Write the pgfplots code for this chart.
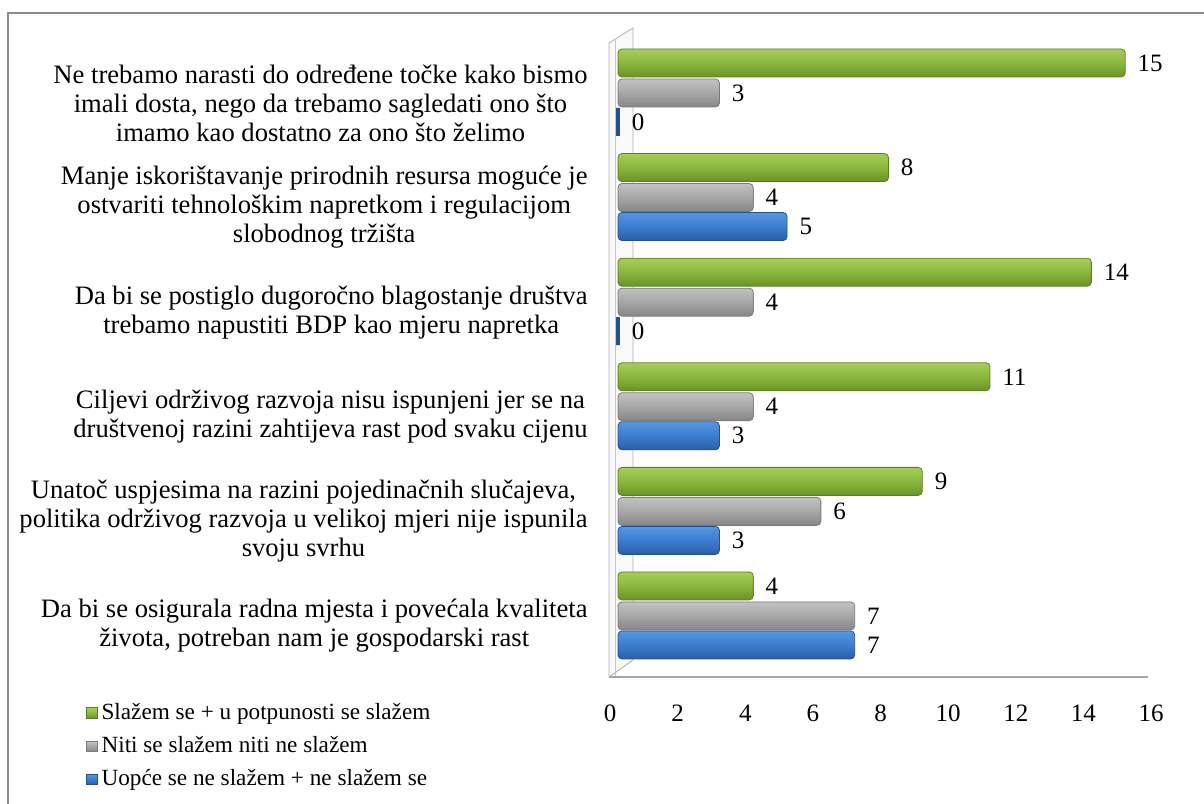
\documentclass[border=0pt]{standalone}
\usepackage{pgfplots}
\pgfplotsset{compat=1.18}
\usepackage{fontspec}
\setmainfont{Liberation Serif}
\definecolor{gA}{HTML}{8BB63D}
\definecolor{gT}{HTML}{A6CE58}
\definecolor{gB}{HTML}{689427}
\definecolor{gD}{HTML}{5A7F22}
\definecolor{kA}{HTML}{A6A6A6}
\definecolor{kT}{HTML}{C2C2C2}
\definecolor{kB}{HTML}{868686}
\definecolor{kD}{HTML}{7A7A7A}
\definecolor{bA}{HTML}{3B7DD0}
\definecolor{bT}{HTML}{5697E0}
\definecolor{bB}{HTML}{2B5FA5}
\definecolor{bD}{HTML}{24508C}
\definecolor{frame}{HTML}{8C8C8C}
\pgfplotsset{
  gbar/.style={draw=gD, top color=gT, bottom color=gB, middle color=gA, rounded corners=2pt, bar shift=15pt},
  kbar/.style={draw=kD, top color=kT, bottom color=kB, middle color=kA, rounded corners=2pt, bar shift=0pt},
  bbar/.style={draw=bD, top color=bT, bottom color=bB, middle color=bA, rounded corners=2pt, bar shift=-14.5pt},
}
\begin{document}
\begin{tikzpicture}
\useasboundingbox (0,0) rectangle (602pt,401.5pt);
% outer frame
\draw[frame, line width=1.1pt] (4pt,-10pt) -- (4pt,395pt) -- (620pt,395pt);
% 3D wall and floor
\draw[gray!60, fill=gray!5] (304.5pt,63pt) -- (304.5pt,380pt) -- (316.5pt,387.5pt) -- (316.5pt,71.5pt) -- cycle;
\draw[gray!45] (307.5pt,63pt) -- (307.5pt,381.5pt);
\draw[gray!70, line width=0.8pt] (304.5pt,63pt) -- (574pt,63pt);
\draw[gray!50] (304.5pt,63pt) -- (316.5pt,71.5pt);
\begin{axis}[
  at={(309pt,63.5pt)}, anchor=south west,
  scale only axis, width=270.5pt, height=318.5pt,
  xmin=0, xmax=16, ymin=-0.574, ymax=5.516,
  clip=false,
  axis line style={draw=none},
  major tick length=0pt,
  xtick={0,2,...,16},
  ytick={0,1,2,3,4,5},
  yticklabels={
    {Da bi se osigurala radna mjesta i povećala kvaliteta\\života, potreban nam je gospodarski rast},
    {Unatoč uspjesima na razini pojedinačnih slučajeva,\\politika održivog razvoja u velikoj mjeri nije ispunila\\svoju svrhu},
    {Ciljevi održivog razvoja nisu ispunjeni jer se na\\društvenoj razini zahtijeva rast pod svaku cijenu},
    {Da bi se postiglo dugoročno blagostanje društva\\trebamo napustiti BDP kao mjeru napretka},
    {Manje iskorištavanje prirodnih resursa moguće je\\ostvariti tehnološkim napretkom i regulacijom\\slobodnog tržišta},
    {Ne trebamo narasti do određene točke kako bismo\\imali dosta, nego da trebamo sagledati ono što\\imamo kao dostatno za ono što želimo}},
  yticklabel style={align=center, font=\fontsize{13.3}{14.5}\selectfont, xshift=-11.7pt, yshift=-5pt},
  xticklabel style={font=\fontsize{12.5}{14}\selectfont, xshift=-4pt, yshift=-11pt},
  /pgf/number format/assume math mode=true,
  xbar, bar width=14pt,
  nodes near coords,
  nodes near coords style={font=\fontsize{12.5}{14}\selectfont, anchor=west, xshift=2.7pt},
  legend style={at={(-0.9945,-0.03)}, anchor=north west, draw=none, fill=none,
    font=\fontsize{11.6}{13.5}\selectfont, row sep=3pt, cells={anchor=west},
    /tikz/every even column/.style={column sep=1pt}},
  legend image code/.code={\path[#1, sharp corners, line width=0.4pt] (0pt,-2.6pt) rectangle (5.2pt,2.6pt);},
]
% Slažem se + u potpunosti se slažem
\addplot[gbar] coordinates {(4,0)};
\addplot[gbar, forget plot] coordinates {(9,1)};
\addplot[gbar, forget plot] coordinates {(11,2)};
\addplot[gbar, forget plot] coordinates {(14,3)};
\addplot[gbar, forget plot] coordinates {(8,4)};
\addplot[gbar, forget plot] coordinates {(15,5)};
% Niti se slažem niti ne slažem
\addplot[kbar] coordinates {(7,0)};
\addplot[kbar, forget plot] coordinates {(6,1)};
\addplot[kbar, forget plot] coordinates {(4,2)};
\addplot[kbar, forget plot] coordinates {(4,3)};
\addplot[kbar, forget plot] coordinates {(4,4)};
\addplot[kbar, forget plot] coordinates {(3,5)};
% Uopće se ne slažem + ne slažem se
\addplot[bbar] coordinates {(7,0)};
\addplot[bbar, forget plot] coordinates {(3,1)};
\addplot[bbar, forget plot] coordinates {(3,2)};
\addplot[bbar, forget plot, line width=1.8pt, sharp corners] coordinates {(0,3)};
\addplot[bbar, forget plot] coordinates {(5,4)};
\addplot[bbar, forget plot, line width=1.8pt, sharp corners] coordinates {(0,5)};
\legend{Slažem se + u potpunosti se slažem, Niti se slažem niti ne slažem, Uopće se ne slažem + ne slažem se}
\end{axis}
\end{tikzpicture}
\end{document}
